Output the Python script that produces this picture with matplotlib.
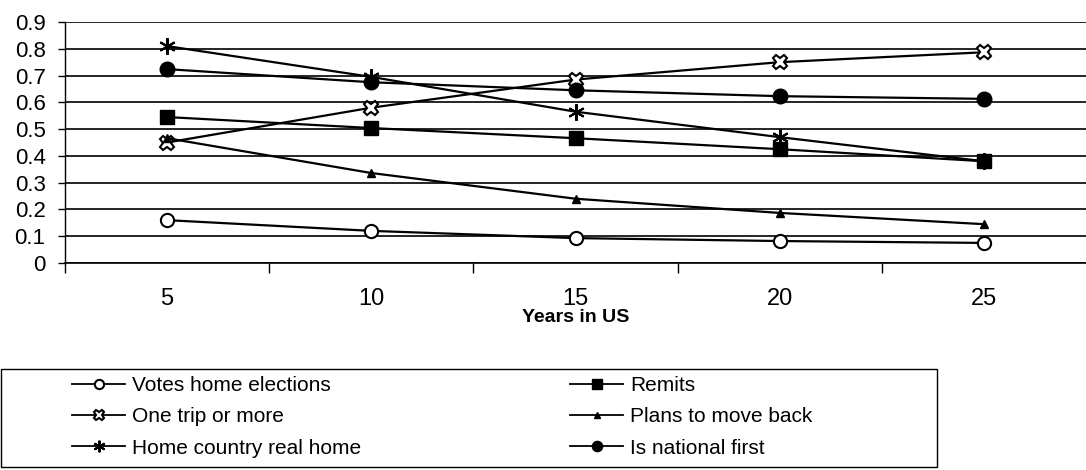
import matplotlib
matplotlib.use("Agg")
import matplotlib.pyplot as plt
from matplotlib.ticker import FixedLocator, NullFormatter
from matplotlib.patches import Rectangle

plt.rcParams['font.family'] = ['Liberation Sans', 'DejaVu Sans']

years = ["5", "10", "15", "20", "25"]
votes = [0.16, 0.12, 0.093, 0.082, 0.075]
remits = [0.545, 0.504, 0.466, 0.425, 0.38]
one_trip = [0.45, 0.58, 0.685, 0.75, 0.787]
plans_back = [0.466, 0.336, 0.24, 0.187, 0.145]
home_real = [0.81, 0.695, 0.565, 0.47, 0.38]
national_first = [0.724, 0.675, 0.645, 0.623, 0.613]
yticks = [0, 0.1, 0.2, 0.3, 0.4, 0.5, 0.6, 0.7, 0.8, 0.9]

fig = plt.figure(figsize=(10.86, 4.70), dpi=100)
ax = fig.add_axes([65/1086, 1-263/470, 1-65/1086, (263-22)/470])
x = list(range(1, len(years)+1))

lw = 1.6
ax.plot(x, votes, color='black', lw=lw, marker='o', ms=9.5, mfc='white', mec='black', mew=1.5, label='Votes home elections')
ax.plot(x, remits, color='black', lw=lw, marker='s', ms=9.5, mfc='black', mec='black', label='Remits')
ax.plot(x, one_trip, color='black', lw=lw, marker='X', ms=10.5, mfc='white', mec='black', mew=1.5, label='One trip or more')
ax.plot(x, plans_back, color='black', lw=lw, marker='^', ms=6, mfc='black', mec='black', label='Plans to move back')
ax.plot(x, home_real, color='black', lw=lw, marker=(6, 2, 0), ms=12, mec='black', mew=1.5, label='Home country real home')
ax.plot(x, national_first, color='black', lw=lw, marker='o', ms=10.5, mfc='black', mec='black', label='Is national first')

ax.set_xlim(0.5, 5.5)
ax.set_ylim(0, 0.9)
ax.set_yticks(yticks)
ax.set_yticklabels([f"{v:g}" for v in yticks], fontsize=16)
ax.tick_params(axis='y', length=5, width=1, pad=9)
ax.yaxis.grid(True, color='black', lw=1.2)
ax.set_axisbelow(True)
ax.set_xticks(x)
ax.set_xticklabels(years, fontsize=17)
ax.tick_params(axis='x', which='major', length=0, pad=18)
ax.xaxis.set_minor_locator(FixedLocator([0.5, 1.5, 2.5, 3.5, 4.5]))
ax.xaxis.set_minor_formatter(NullFormatter())
ax.tick_params(axis='x', which='minor', length=7, width=1)
for s in ['top', 'right']:
    ax.spines[s].set_visible(False)
ax.spines['bottom'].set_linewidth(1.2)
ax.spines['left'].set_linewidth(1.0)
ax.set_xlabel('Years in US', fontsize=14, fontweight='bold', labelpad=-1)

handles, labels = ax.get_legend_handles_labels()
fig.add_artist(Rectangle((0.5/1086, 3/470), 936/1086, 366/470 - 268/470, transform=fig.transFigure,
                         fill=False, edgecolor='black', lw=1.0))

def make_leg(idx, x0):
    lg = fig.legend([handles[i] for i in idx], [labels[i] for i in idx],
                    loc='upper left', bbox_to_anchor=(x0/1086, 1-376/470),
                    fontsize=15, frameon=False, handlelength=2.55, borderaxespad=0,
                    borderpad=0, labelspacing=0.59, handletextpad=0.34)
    for h in lg.legend_handles:
        h.set_markersize(h.get_markersize()*0.7)
        h.set_linewidth(1.3)
    return lg

make_leg([0, 2, 4], 72)
make_leg([1, 3, 5], 570)

fig.savefig('out.png', dpi=100, facecolor='white')
